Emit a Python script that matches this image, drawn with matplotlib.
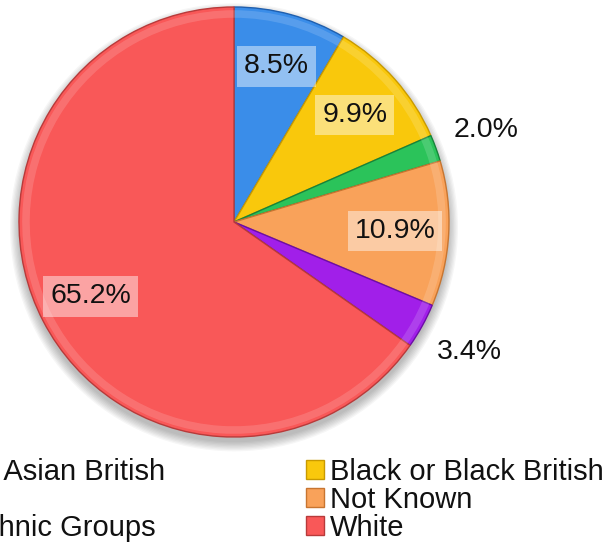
import matplotlib
matplotlib.use('Agg')
from matplotlib import pyplot as plt
from matplotlib.patches import Circle
import numpy as np

plt.rcParams['font.family'] = ['Liberation Sans', 'DejaVu Sans']

groups = ['Asian or Asian British', 'Black or Black British', 'Mixed',
          'Not Known', 'Other Ethnic Groups', 'White']
shares = [8.5, 9.9, 2.0, 10.9, 3.4, 65.2]
colors = ['#3a8de9', '#f9c80c', '#2bc35a', '#f9a25a', '#a11fe9', '#f95858']
edges = ['#1f5fae', '#c99a00', '#17843a', '#c87530', '#6c0da6', '#b83a3a']
# small slices get their label outside the pie
outside = [False, False, True, False, True, False]

W, H = 613, 544
fig = plt.figure(figsize=(W / 100, H / 100), dpi=100)

# pie centred at (234, 222) px with a 215 px radius
cx, cy, r = 234, 222, 215
ax = fig.add_axes([(cx - r) / W, (H - cy - r) / H, 2 * r / W, 2 * r / H])
ax.axis('off')

# soft shadow under the pie
for i in range(8):
    ax.add_patch(Circle((0, -0.025), 1.0 + 0.006 * i, color='#000000',
                        alpha=0.035, lw=0, zorder=0, clip_on=False))

wedges, _ = ax.pie(shares, colors=colors, startangle=90, counterclock=False,
                   radius=1, wedgeprops=dict(linewidth=1.0))
for w, ec in zip(wedges, edges):
    w.set_edgecolor(ec)
    w.set_zorder(2)

# lighter rim to give the slices a bevelled look
rim, _ = ax.pie(shares, colors=['white'] * len(shares), startangle=90,
                counterclock=False, radius=0.985,
                wedgeprops=dict(width=0.035, linewidth=0, alpha=0.15))
for w in rim:
    w.set_zorder(3)

ax.set_xlim(-1.0, 1.0)
ax.set_ylim(-1.0, 1.0)

for w, s, out in zip(wedges, shares, outside):
    theta = np.deg2rad((w.theta1 + w.theta2) / 2)
    d = 1.25 if out else 0.75
    x, y = d * np.cos(theta), d * np.sin(theta)
    txt = '%.1f%%' % s
    if out:
        ax.text(x, y, txt, ha='center', va='center', fontsize=20.5,
                color='#111111', zorder=5)
    else:
        ax.text(x, y, txt, ha='center', va='center', fontsize=20.5,
                color='#111111', zorder=5,
                bbox=dict(boxstyle='square,pad=0.25', facecolor='white',
                          edgecolor='none', alpha=0.45))

# legend laid out row by row: Asian/Black, Mixed/Not Known, Other/White
order = [0, 2, 4, 1, 3, 5]
leg = fig.legend([wedges[i] for i in order], [groups[i] for i in order],
                 ncol=2, loc='upper left', frameon=False,
                 bbox_to_anchor=(-134 / W, 1 - 458 / H),
                 fontsize=21, borderpad=0, borderaxespad=0,
                 handlelength=0.6, handleheight=0.6, handletextpad=0.22,
                 labelspacing=0.0, columnspacing=4.84)
for t in leg.get_texts():
    t.set_color('#111111')

fig.savefig('out.png', dpi=100)
